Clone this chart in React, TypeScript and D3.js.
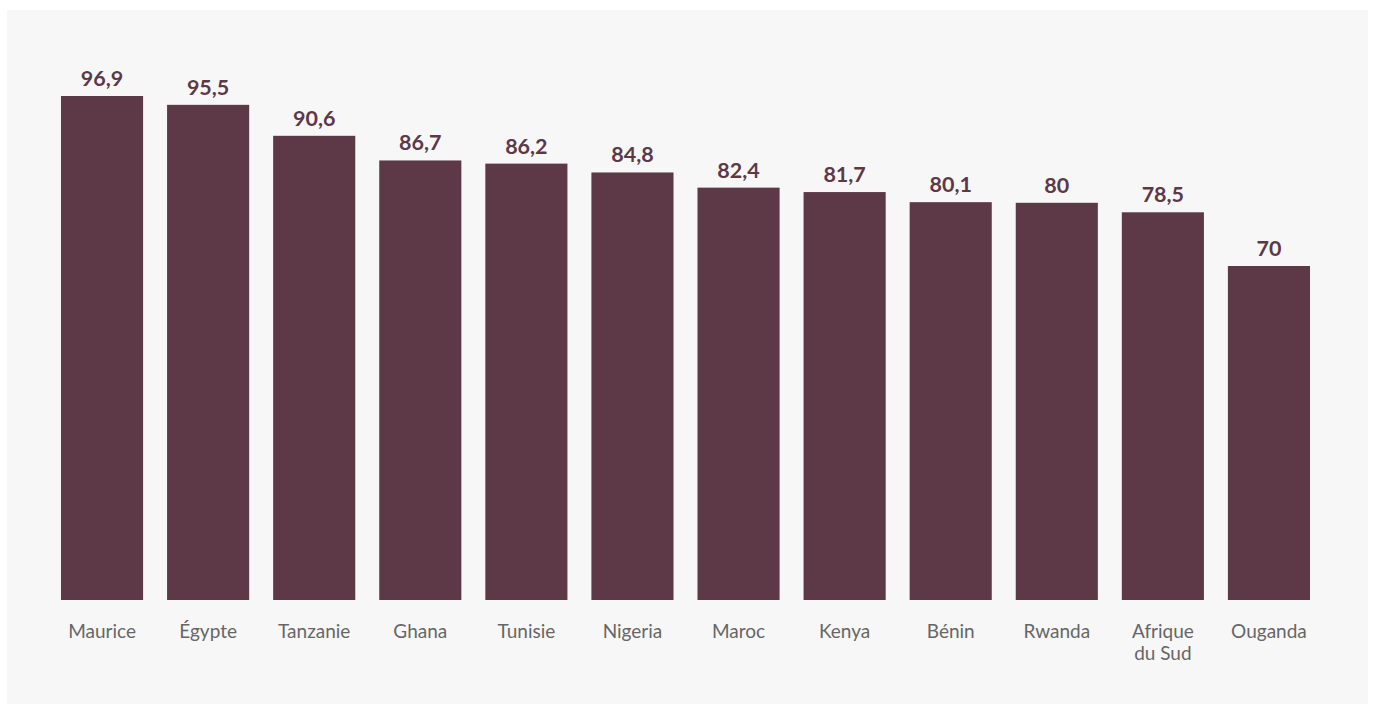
import React from "react";
import * as d3 from "d3";

const categories = ["Maurice", "Égypte", "Tanzanie", "Ghana", "Tunisie", "Nigeria", "Maroc", "Kenya", "Bénin", "Rwanda", "Afrique du Sud", "Ouganda"];
const labelLines = [["Maurice"], ["Égypte"], ["Tanzanie"], ["Ghana"], ["Tunisie"], ["Nigeria"], ["Maroc"], ["Kenya"], ["Bénin"], ["Rwanda"], ["Afrique", "du Sud"], ["Ouganda"]];
const values = [96.9, 95.5, 90.6, 86.7, 86.2, 84.8, 82.4, 81.7, 80.1, 80, 78.5, 70];
const valueLabels = ["96,9", "95,5", "90,6", "86,7", "86,2", "84,8", "82,4", "81,7", "80,1", "80", "78,5", "70"];

const W = 1373;
const H = 704;
const BAR = "#5d3947";

export default function App() {
  const x = d3.scaleBand<string>().domain(categories).range([49, 1322]).paddingInner(0.226).paddingOuter(0.113);
  const y = d3.scaleLinear().domain([17.15, 96.9]).range([600, 96]);
  return (
    <svg width={W} height={H} style={{ position: "absolute", left: 0, top: 0 }} fontFamily="Lato, 'Open Sans', sans-serif">
      <rect x={0} y={0} width={W} height={H} fill="#ffffff" />
      <rect x={7} y={10} width={1361} height={694} fill="#f7f7f7" />
      {categories.map((c, i) => {
        const bx = x(c)!;
        const bw = x.bandwidth();
        const top = y(values[i]);
        return (
          <g key={c}>
            <rect x={bx} y={top} width={bw} height={y(17.15) - top} fill={BAR} />
            <text x={bx + bw / 2} y={top - 10} textAnchor="middle" fontSize={21.5} fontWeight="bold" fill={BAR}>
              {valueLabels[i]}
            </text>
            <text x={bx + bw / 2} y={638} textAnchor="middle" fontSize={19} fill="#666666">
              {labelLines[i].map((l, j) => (
                <tspan key={j} x={bx + bw / 2} dy={j === 0 ? 0 : 22}>{l}</tspan>
              ))}
            </text>
          </g>
        );
      })}
    </svg>
  );
}
